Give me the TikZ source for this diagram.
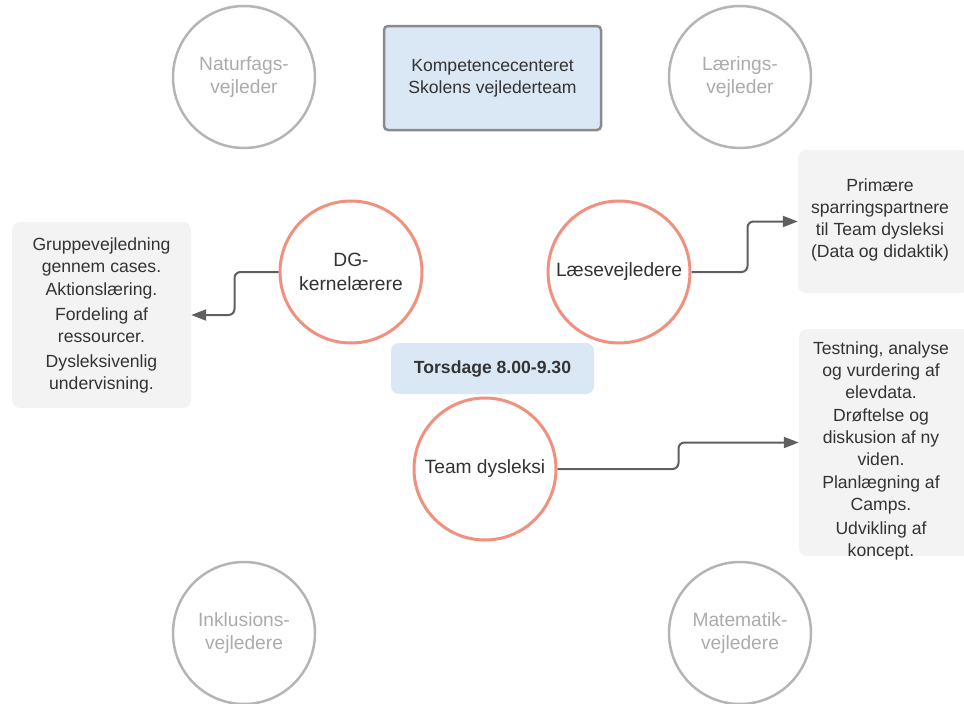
\documentclass[tikz,border=0pt]{standalone}
\usepackage{fontspec}
\setmainfont{Liberation Sans}
\usetikzlibrary{arrows.meta}
\definecolor{salmon}{HTML}{F0907E}
\definecolor{grc}{HTML}{B5B5B5}
\definecolor{grt}{HTML}{ABABAB}
\definecolor{bluefill}{HTML}{DAE8F5}
\definecolor{notefill}{HTML}{F3F3F3}
\definecolor{bordercol}{HTML}{8A8A8A}
\definecolor{conncol}{HTML}{5F5F5F}
\definecolor{txt}{HTML}{333333}
\begin{document}
\begin{tikzpicture}[x=1pt,y=-1pt,
  every node/.style={font=\fontsize{17.6}{22}\selectfont, text=txt, align=center, inner sep=0pt},
  redc/.style={circle, draw=salmon, line width=3pt, minimum size=142pt, fill=white,
    font=\fontsize{19.2}{24.5}\selectfont},
  grayc/.style={circle, draw=grc, line width=2.5pt, minimum size=142pt, text=grt,
    font=\fontsize{19.2}{23.5}\selectfont},
  notebox/.style={rectangle, rounded corners=8pt, fill=notefill},
  bluebox/.style={rectangle, fill=bluefill},
  conn/.style={draw=conncol, line width=2pt, rounded corners=6pt, -{Triangle[length=15pt,width=11pt]}}
]
\useasboundingbox (0,0) rectangle (964,704);

% gray circles
\node[grayc] (nat) at (244,77) {Naturfags-\\vejleder};
\node[grayc] (laer) at (740,77) {Lærings-\\vejleder};
\node[grayc] (ink) at (244,633) {Inklusions-\\vejledere};
\node[grayc] (mat) at (740,633) {Matematik-\\vejledere};

% top box
\node[bluebox, draw=bordercol, line width=2.5pt, rounded corners=4pt,
      minimum width=217pt, minimum height=104pt] (komp) at (492.5,78)
      {Kompetencecenteret\\Skolens vejlederteam};

% Torsdage
\node[bluebox, rounded corners=8pt, minimum width=203pt, minimum height=51pt,
      font=\fontsize{17.6}{22}\selectfont\bfseries] (tors) at (492.5,368.5) {Torsdage 8.00-9.30};

% red circles
\node[redc] (dg) at (351,272) {DG-\\kernelærere};
\node[redc] (laes) at (619,272) {Læsevejledere};
\node[redc] (team) at (485,469) {Team dysleksi};

% note boxes
\node[notebox, minimum width=179pt, minimum height=186pt] (lb) at (101.5,315)
  {Gruppevejledning\\gennem cases.\\[1pt]Aktionslæring.\\[3pt]Fordeling af\\ressourcer.\\[3pt]Dysleksivenlig\\undervisning.};
\node[notebox, minimum width=172pt, minimum height=143pt] (tr) at (884,221.5)
  {};
\node (trt) at (880,220) {Primære\\sparringspartnere\\til Team dysleksi\\(Data og didaktik)};
\node[notebox, minimum width=172pt, minimum height=227pt] (br) at (885,442.5) {};
\node (brt) at (881,451) {Testning, analyse\\og vurdering af\\elevdata.\\[1pt]Drøftelse og\\diskusion af ny\\viden.\\[1pt]Planlægning af\\Camps.\\[2pt]Udvikling af\\koncept.};

% connectors
\draw[conn] (dg.west) -- ++(-44,0) |- (lb.east);
\draw[conn] (laes.east) -- ++(56,0) |- (tr.west);
\draw[conn] (team.east) -- ++(121,0) |- (br.west);
\end{tikzpicture}
\end{document}
